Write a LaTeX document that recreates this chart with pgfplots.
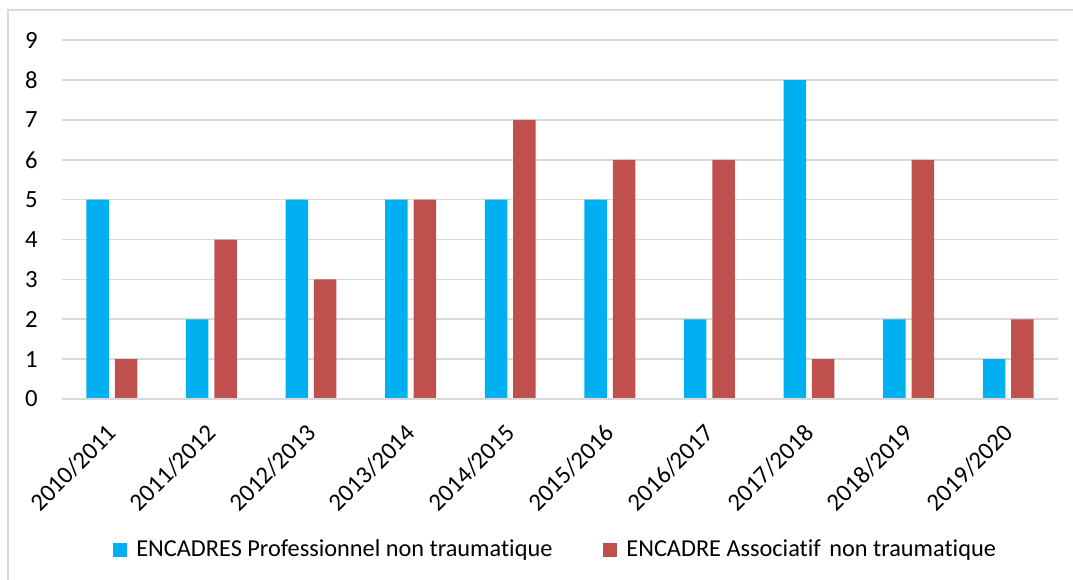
\documentclass[border=0pt]{standalone}
\usepackage{pgfplots}
\pgfplotsset{compat=1.18}
\usepackage{fontspec}
\setmainfont{Carlito}[Ligatures=NoCommon]
\definecolor{cblue}{HTML}{00B0F0}
\definecolor{cred}{HTML}{C0504D}
\definecolor{cgrid}{HTML}{D9D9D9}
\begin{document}
\fontsize{12.4}{14}\selectfont
\begin{tikzpicture}
\useasboundingbox (-31bp,-90.5bp) rectangle (505.5bp,199.5bp);
\draw[cgrid, line width=0.8bp] (-27bp,-95bp) -- (-27bp,194.5bp) -- (510bp,194.5bp);
\begin{axis}[
  at={(0,0)}, anchor=south west,
  scale only axis,
  width=498bp, height=179.4bp,
  xmin=-0.5, xmax=9.5, ymin=0, ymax=9,
  ybar, bar width=11.25bp,
  axis line style={draw=none},
  axis x line*=bottom,
  ytick={0,...,9},
  ymajorgrids, grid style={cgrid, line width=0.8bp},
  major tick length=0pt,
  xtick=data,
  xticklabels={2010/2011,2011/2012,2012/2013,2013/2014,2014/2015,2015/2016,2016/2017,2017/2018,2018/2019,2019/2020},
  xticklabel style={rotate=45, anchor=east, inner sep=0pt, xshift=-10.3bp, yshift=-10.7bp},
  yticklabel style={anchor=east, inner sep=0pt, xshift=-12bp},
  /pgf/number format/assume math mode=true,
  tick label style={font=\fontsize{12.4}{14}\selectfont},
  legend columns=2,
  legend style={at={(0.0512,-0.421)}, anchor=west, draw=none, fill=none, inner sep=0pt,
    font=\fontsize{12.2}{14}\selectfont,
    /tikz/every odd column/.append style={column sep=2.5bp},
    /tikz/every even column/.append style={column sep=23.5bp}},
  legend cell align=left,
  legend image code/.code={\fill[#1, draw=none] (0bp,-3.5bp) rectangle (7bp,3.5bp);},
]
\addplot[fill=cblue, draw=none, bar shift=-7.1bp] coordinates {(0,5) (1,2) (2,5) (3,5) (4,5) (5,5) (6,2) (7,8) (8,2) (9,1)};
\addlegendentry{ENCADRES Professionnel non traumatique}
\addplot[fill=cred, draw=none, bar shift=7.1bp] coordinates {(0,1) (1,4) (2,3) (3,5) (4,7) (5,6) (6,6) (7,1) (8,6) (9,2)};
\addlegendentry{ENCADRE Associatif\hspace{0.35em}non traumatique}
\draw[cgrid, line width=0.8bp] (rel axis cs:0,0) -- (rel axis cs:1,0);
\end{axis}
\end{tikzpicture}
\end{document}
